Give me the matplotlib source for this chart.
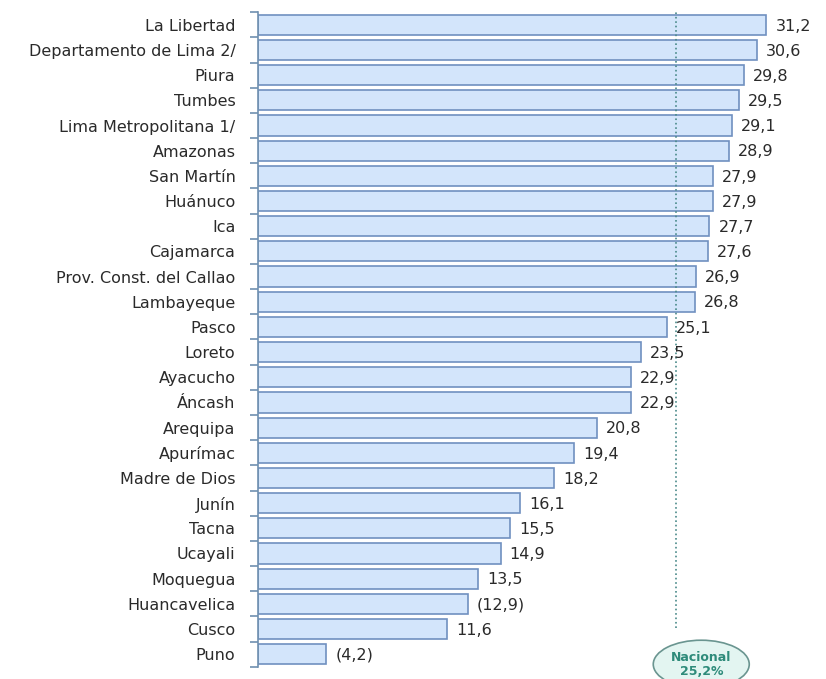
import matplotlib.pyplot as plt
import numpy as np

plt.rcParams['font.family'] = ['DejaVu Sans']

regiones = ['La Libertad', 'Departamento de Lima 2/', 'Piura', 'Tumbes',
            'Lima Metropolitana 1/', 'Amazonas', 'San Martín', 'Huánuco', 'Ica',
            'Cajamarca', 'Prov. Const. del Callao', 'Lambayeque', 'Pasco', 'Loreto',
            'Ayacucho', 'Áncash', 'Arequipa', 'Apurímac', 'Madre de Dios', 'Junín',
            'Tacna', 'Ucayali', 'Moquegua', 'Huancavelica', 'Cusco', 'Puno']
valores = [31.2, 30.6, 29.8, 29.5, 29.1, 28.9, 27.9, 27.9, 27.7, 27.6, 26.9, 26.8,
           25.1, 23.5, 22.9, 22.9, 20.8, 19.4, 18.2, 16.1, 15.5, 14.9, 13.5, 12.9,
           11.6, 4.2]
etiquetas = ['31,2', '30,6', '29,8', '29,5', '29,1', '28,9', '27,9', '27,9', '27,7',
             '27,6', '26,9', '26,8', '25,1', '23,5', '22,9', '22,9', '20,8', '19,4',
             '18,2', '16,1', '15,5', '14,9', '13,5', '(12,9)', '11,6', '(4,2)']
nacional = 25.2

fig = plt.figure(figsize=(8.26, 6.79), dpi=100)
ax = fig.add_axes([0.312, 0.018, 0.688, 0.964])

y = np.arange(len(valores))
ax.barh(y, valores, height=0.8, color='#d3e5fb', edgecolor='#7090c0', linewidth=1.2)

# etiquetas de valores
for yi, v, t in zip(y, valores, etiquetas):
    ax.text(v + 0.55, yi + 0.05, t, va='center', ha='left', fontsize=11.5, color='#2a2a2a')

ax.set_ylim(len(valores) - 0.5, -0.5)
ax.set_xlim(0, 34.85)

# linea del promedio nacional + elipse
ax.axvline(nacional + 0.45, ymin=0.06, ymax=1.0, color='#4a8a8a', linestyle=':', linewidth=1.2)
ax.text(nacional + 2.0, len(valores) - 0.6, 'Nacional\n25,2%', ha='center', va='center',
        fontsize=9, fontweight='bold', color='#2e8b7a', linespacing=1.05,
        bbox=dict(boxstyle='ellipse,pad=0.3', fc='#e3f5f1', ec='#6a9590', lw=1.2),
        clip_on=False)

ax.set_yticks(y)
ax.set_yticklabels(regiones, fontsize=11.5, color='#2a2a2a')
ax.tick_params(axis='y', which='major', length=0, pad=16)
ax.set_yticks(np.arange(-0.5, len(valores), 1.0), minor=True)
ax.tick_params(axis='y', which='minor', length=6, color='#7090b0', width=1.2)
ax.set_xticks([])

for s in ['top', 'right', 'bottom']:
    ax.spines[s].set_visible(False)
ax.spines['left'].set_color('#7090b0')
ax.spines['left'].set_linewidth(1.2)

fig.savefig('out.png', dpi=100)
